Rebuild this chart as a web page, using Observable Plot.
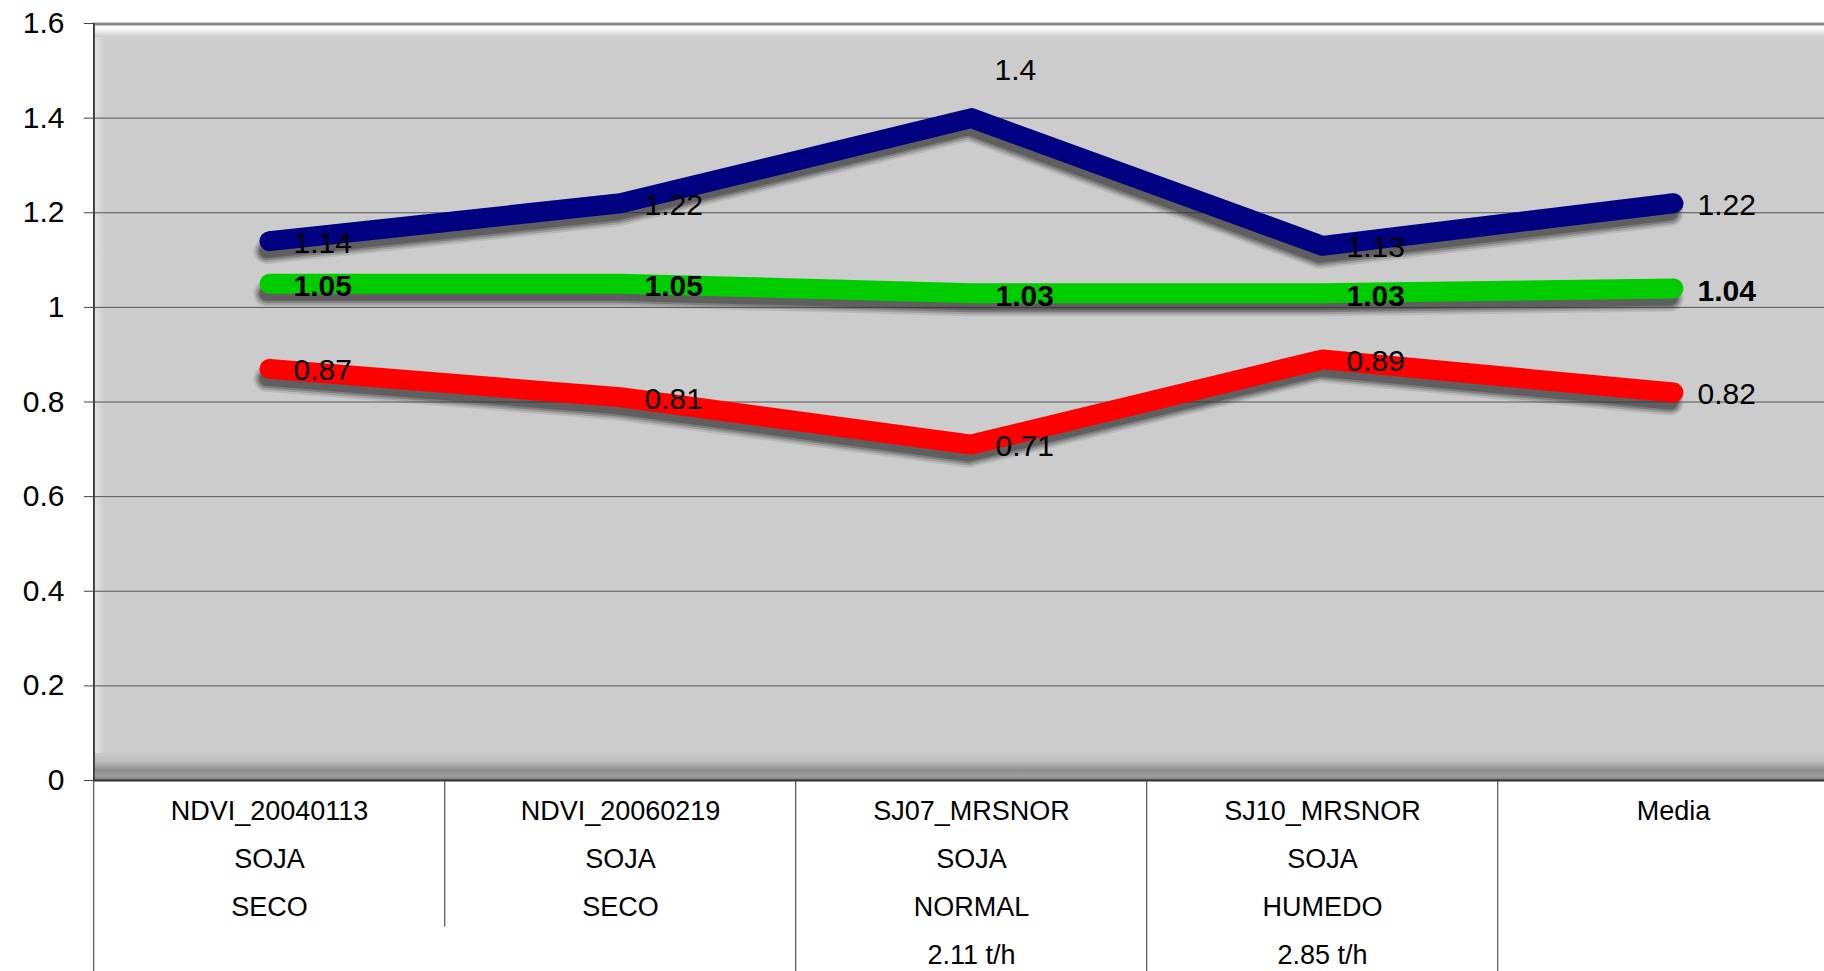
<!DOCTYPE html>
<html><head><meta charset="utf-8">
<script src="https://cdn.jsdelivr.net/npm/d3@7"></script>
<script src="https://cdn.jsdelivr.net/npm/@observablehq/plot@0.6"></script>
<style>
html,body{margin:0;padding:0;background:#fff;overflow:hidden}
#chart svg{display:block}
</style></head><body><div id="chart"></div>
<script>
// ---- data ----
const categories = ["NDVI_20040113", "NDVI_20060219", "SJ07_MRSNOR", "SJ10_MRSNOR", "Media"];
const cropRow = ["SOJA", "SOJA", "SOJA", "SOJA", ""];
const conditionRow = ["SECO", "SECO", "NORMAL", "HUMEDO", ""];
const yieldRow = ["", "", "2.11 t/h", "2.85 t/h", ""];
const seriesMax = [1.14, 1.22, 1.40, 1.13, 1.22];
const seriesMean = [1.05, 1.05, 1.03, 1.03, 1.04];
const seriesMin = [0.87, 0.81, 0.71, 0.89, 0.82];
const yTicks = [0, 0.2, 0.4, 0.6, 0.8, 1, 1.2, 1.4, 1.6];

const seriesDefs = [
  {name: "max", values: seriesMax, color: "#000080"},
  {name: "mean", values: seriesMean, color: "#00cc00"},
  {name: "min", values: seriesMin, color: "#ff0000"}
];
const data = seriesDefs.flatMap(s => s.values.map((v, i) => ({series: s.name, category: categories[i], i, value: v, color: s.color})));
const separators = categories.map((c, i) => ({category: c, top: i === 0 ? 1.6 : 0, bottom: i === 1 ? -0.31 : -0.42}));

const W = 1824, H = 971;
const xRange = [268, 1674];
const step = (xRange[1] - xRange[0]) / (categories.length - 1);
const font = "'Liberation Sans', Arial, sans-serif";
const peak = d3.max(seriesMax);

const labelLines = d => {
  const i = categories.indexOf(d);
  return [categories[i], cropRow[i], conditionRow[i], yieldRow[i]].filter(s => s !== "").join("\n");
};

// soft drop shadow built from stacked translucent strokes
const shadowLayers = [
  {w: 26, o: 0.12}, {w: 22, o: 0.2}, {w: 18, o: 0.3}, {w: 14, o: 0.4}
];
const lineOpts = {x: "category", y: "value", z: "series", strokeLinecap: "round", strokeLinejoin: "round"};

const chart = Plot.plot({
  width: W, height: H,
  marginLeft: 93, marginRight: 0, marginTop: 23, marginBottom: 191,
  style: {fontFamily: font, background: "transparent", overflow: "visible", color: "#000"},
  x: {type: "point", domain: categories, range: xRange, padding: 0, label: null},
  y: {domain: [0, 1.6], label: null},
  color: {type: "identity"},
  marks: [
    Plot.frame({fill: "#cccccc", stroke: null}),
    Plot.ruleY(yTicks.filter(t => t > 0 && t < 1.6), {stroke: "#555", strokeWidth: 1}),
    ...shadowLayers.map(l => Plot.line(data, {...lineOpts, stroke: "#333", strokeOpacity: l.o,
      strokeWidth: l.w, dx: -3, dy: 10})),
    Plot.line(data, {...lineOpts, stroke: "color", strokeWidth: 20}),
    Plot.ruleY([0], {stroke: "#333", strokeWidth: 2}),
    Plot.ruleX(separators, {x: "category", dx: -step / 2, y1: "top", y2: "bottom", stroke: "#333", strokeWidth: 1}),
    Plot.axisY({ticks: yTicks, tickFormat: d => String(d), tickSize: 9, tickPadding: 20, fontSize: 30, stroke: "#444", label: null}),
    Plot.axisX({tickSize: 0, tickPadding: 5, fontSize: 27, lineHeight: 48 / 27, tickFormat: labelLines, label: null}),
    Plot.text(data, {filter: d => d.series !== "mean" && !(d.series === "max" && d.value === peak),
      x: "category", y: "value", text: d => String(d.value), textAnchor: "start", dx: 24, dy: 2,
      fontSize: 30, fill: "#000"}),
    Plot.text(data, {filter: d => d.series === "max" && d.value === peak,
      x: "category", y: "value", text: d => String(d.value), textAnchor: "start", dx: 23, dy: -48,
      fontSize: 30, fill: "#000"}),
    Plot.text(data, {filter: d => d.series === "mean",
      x: "category", y: "value", text: d => d.value.toFixed(2), textAnchor: "start", dx: 24, dy: 3,
      fontSize: 30, fontWeight: "bold", fill: "#000"})
  ]
});

document.getElementById("chart").appendChild(chart);

// ---- decorative 3D wall bevels ----
(function () {
  const svg = d3.select(chart);
  const ys = chart.scale("y");
  const fTop = ys.apply(1.6), fBottom = ys.apply(0), fLeft = 93, fRight = W;
  const defs = svg.append("defs");
  const gTop = defs.append("linearGradient").attr("id", "bevTop").attr("x1", 0).attr("y1", 0).attr("x2", 0).attr("y2", 1);
  gTop.append("stop").attr("offset", 0).attr("stop-color", "#f2f2f2");
  gTop.append("stop").attr("offset", 0.35).attr("stop-color", "#ffffff");
  gTop.append("stop").attr("offset", 1).attr("stop-color", "#cccccc");
  const gLeft = defs.append("linearGradient").attr("id", "bevLeft").attr("x1", 0).attr("y1", 0).attr("x2", 1).attr("y2", 0);
  gLeft.append("stop").attr("offset", 0).attr("stop-color", "#e6e6e6");
  gLeft.append("stop").attr("offset", 1).attr("stop-color", "#cccccc");
  const gBot = defs.append("linearGradient").attr("id", "bevBot").attr("x1", 0).attr("y1", 0).attr("x2", 0).attr("y2", 1);
  gBot.append("stop").attr("offset", 0).attr("stop-color", "#cccccc");
  gBot.append("stop").attr("offset", 0.3).attr("stop-color", "#bdbdbd");
  gBot.append("stop").attr("offset", 0.65).attr("stop-color", "#8c8c8c");
  gBot.append("stop").attr("offset", 0.85).attr("stop-color", "#a0a0a0");
  gBot.append("stop").attr("offset", 1).attr("stop-color", "#7a7a7a");

  const frameNode = chart.querySelector('[aria-label="frame"]');
  const deco = document.createElementNS("http://www.w3.org/2000/svg", "g");
  frameNode.parentNode.insertBefore(deco, frameNode.nextSibling);
  const dg = d3.select(deco);
  dg.append("rect").attr("x", fLeft).attr("y", fTop).attr("width", 12).attr("height", fBottom - fTop).attr("fill", "url(#bevLeft)");
  dg.append("rect").attr("x", fLeft).attr("y", fTop).attr("width", fRight - fLeft).attr("height", 14).attr("fill", "url(#bevTop)");
  dg.append("rect").attr("x", fLeft).attr("y", fBottom - 27).attr("width", fRight - fLeft).attr("height", 27).attr("fill", "url(#bevBot)");
  dg.append("line").attr("x1", fLeft).attr("x2", fRight).attr("y1", fTop + 1).attr("y2", fTop + 1).attr("stroke", "#8a8a8a").attr("stroke-width", 3);
  dg.append("line").attr("x1", fLeft + 1).attr("x2", fLeft + 1).attr("y1", fTop).attr("y2", fBottom).attr("stroke", "#555").attr("stroke-width", 2);
})();
</script>
</body></html>
